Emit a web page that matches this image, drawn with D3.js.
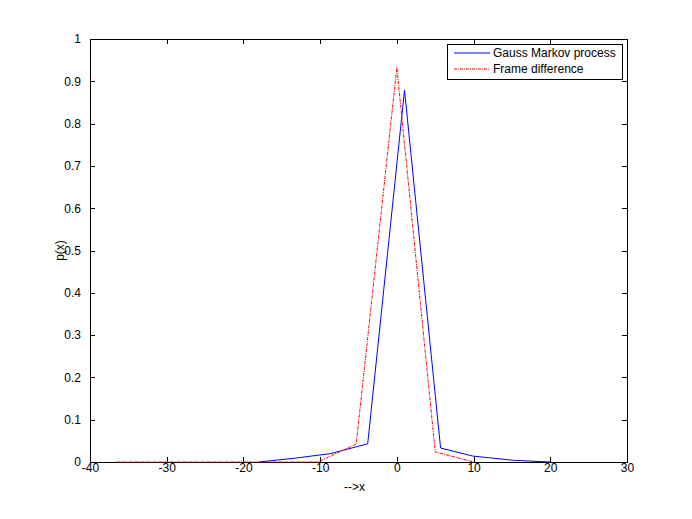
<!DOCTYPE html>
<html><head><meta charset="utf-8">
<script src="https://cdn.jsdelivr.net/npm/d3@7"></script>
<style>body{margin:0;background:#fff}svg{display:block}text{font-family:"Liberation Sans",Arial,sans-serif;font-size:12px;fill:#000}</style>
</head><body>
<script>
const blueX = [-18, -13.3, -8.6, -3.8, 1, 5.7, 9.9, 15.2, 20];
const blueY = [0, 0.009, 0.02, 0.043, 0.879, 0.033, 0.014, 0.004, 0];
const redX = [-36.5, -30, -25, -20, -15, -10.3, -5.3, 0, 5, 10];
const redY = [0, 0, 0, 0, 0, 0, 0.042, 0.933, 0.024, 0];
const xTicks = [-40, -30, -20, -10, 0, 10, 20, 30];
const yTicks = [0, 0.1, 0.2, 0.3, 0.4, 0.5, 0.6, 0.7, 0.8, 0.9, 1];
const seriesNames = ["Gauss Markov process", "Frame difference"];

const W = 692, H = 519;
const L = 90, R = 627, T = 39, B = 462;
const svg = d3.select("body").append("svg").attr("width", W).attr("height", H);
const x = d3.scaleLinear().domain([-40, 30]).range([L, R]);
const y = d3.scaleLinear().domain([0, 1]).range([B, T]);
const axisColor = "#000";
const fmt = d => String(d);

svg.append("rect").attr("x", L).attr("y", T).attr("width", R - L).attr("height", B - T)
  .attr("fill", "none").attr("stroke", axisColor).attr("stroke-width", 1).attr("shape-rendering","crispEdges");

const tl = 5;
const gx = svg.append("g").attr("transform", `translate(0,${B})`)
  .call(d3.axisBottom(x).tickValues(xTicks).tickSize(-tl).tickPadding(tl + 3).tickFormat(fmt));
const gxt = svg.append("g").attr("transform", `translate(0,${T})`)
  .call(d3.axisTop(x).tickValues(xTicks).tickSize(-tl).tickFormat(""));
const gy = svg.append("g").attr("transform", `translate(${L},0)`)
  .call(d3.axisLeft(y).tickValues(yTicks).tickSize(-tl).tickPadding(tl + 4).tickFormat(fmt));
const gyr = svg.append("g").attr("transform", `translate(${R},0)`)
  .call(d3.axisRight(y).tickValues(yTicks).tickSize(-tl).tickFormat(""));
[gx, gxt, gy, gyr].forEach(g => {
  g.select(".domain").remove();
  g.selectAll("line").attr("stroke", axisColor).attr("shape-rendering","crispEdges");
  g.selectAll("text").attr("font-size", 12).attr("font-family", "Liberation Sans, Arial, sans-serif").attr("fill", "#000");
});
gx.selectAll("text").attr("dy", "0.71em").attr("y", 1);

const line = d3.line().x(d => x(d[0])).y(d => y(d[1]));
svg.append("path").datum(blueX.map((v, i) => [v, blueY[i]]))
  .attr("d", line).attr("fill", "none").attr("stroke", "#0000ff").attr("stroke-width", 1);
svg.append("path").datum(redX.map((v, i) => [v, redY[i]]))
  .attr("d", line).attr("fill", "none").attr("stroke", "#ff0000").attr("stroke-width", 1)
  .attr("stroke-dasharray", "3,1,1,1");

svg.append("text").attr("x", (L + R) / 2 - 4).attr("y", 491).attr("text-anchor", "middle").text("-->x");
svg.append("text").attr("transform", `translate(64,${(T + B) / 2}) rotate(-90)`).attr("text-anchor", "middle").text("p(x)");

const lg = svg.append("g");
lg.append("rect").attr("x", 447).attr("y", 44).attr("width", 175).attr("height", 35)
  .attr("fill", "#fff").attr("stroke", "#000").attr("shape-rendering","crispEdges");
const cols = ["#0000ff", "#ff0000"], dashes = [null, "3,1,1,1"];
seriesNames.forEach((n, i) => {
  const yy = 53 + i * 16;
  lg.append("line").attr("x1", 454).attr("x2", 490).attr("y1", yy).attr("y2", yy)
    .attr("stroke", cols[i]).attr("stroke-dasharray", dashes[i]);
  lg.append("text").attr("x", 493).attr("y", yy + 4).text(n);
});
</script>
</body></html>
